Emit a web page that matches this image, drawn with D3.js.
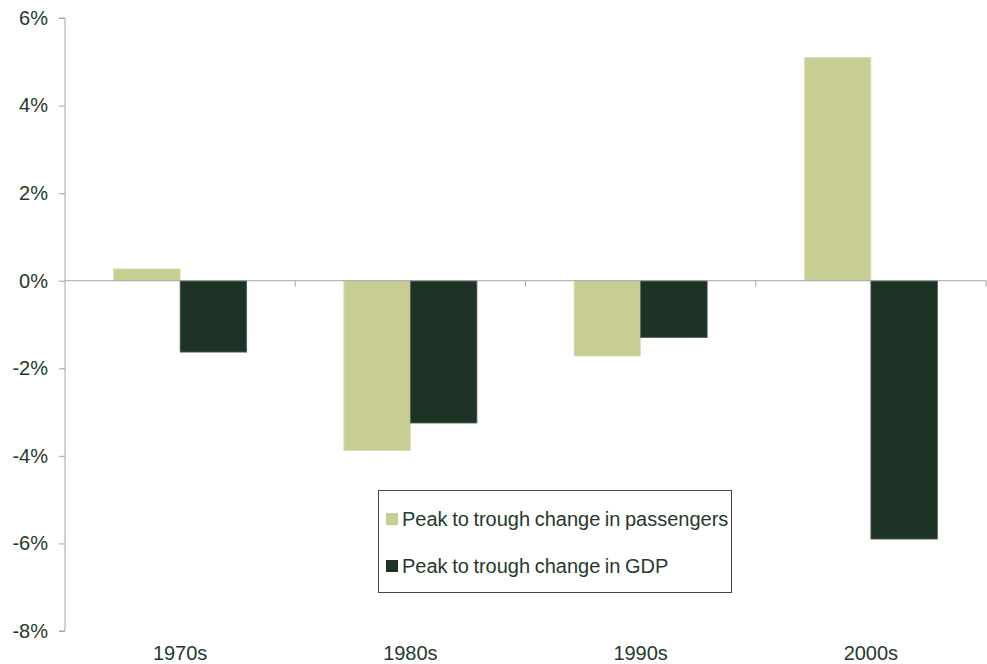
<!DOCTYPE html>
<html><head><meta charset="utf-8">
<script src="https://cdn.jsdelivr.net/npm/d3@7"></script>
<style>body{margin:0;background:#fff;} svg{display:block;}</style>
</head><body>
<svg id="chart" width="987" height="664"></svg>
<script>
const categories = ["1970s", "1980s", "1990s", "2000s"];
const seriesNames = ["Peak to trough change in passengers", "Peak to trough change in GDP"];
const passengers = [0.27, -3.88, -1.72, 5.1];
const gdp = [-1.63, -3.25, -1.30, -5.9];
const yTicks = [6, 4, 2, 0, -2, -4, -6, -8];
const colors = ["#C8CD94", "#1C3326"];
const textColor = "#1F3A2C";

const svg = d3.select("#chart");
const mLeft = 65, mRight = 986, mTop = 18, mBottom = 631;

const x = d3.scaleBand().domain(categories).range([mLeft, mRight]).paddingInner(0).paddingOuter(0);
const inner = d3.scaleBand().domain([0, 1]).range([0, x.bandwidth()]).paddingOuter(0.73).paddingInner(0);
const y = d3.scaleLinear().domain([-8, 6]).range([mBottom, mTop]);

const font = "'Liberation Sans', Arial, sans-serif";
const fs = "20px";

// bars
const series = [passengers, gdp];
series.forEach((vals, si) => {
  svg.append("g").selectAll("rect").data(vals).enter().append("rect")
    .attr("x", (d, i) => x(categories[i]) + inner(si))
    .attr("width", inner.bandwidth())
    .attr("y", d => y(Math.max(0, d)))
    .attr("height", d => Math.abs(y(d) - y(0)))
    .attr("fill", colors[si])
    .attr("stroke", si === 0 ? "#DCDFC0" : "#56655C")
    .attr("stroke-width", 0.8);
});

// y axis
const yAxis = d3.axisLeft(y).tickValues(yTicks).tickFormat(d => d + "%").tickSize(6).tickPadding(11);
const gy = svg.append("g").attr("transform", `translate(${mLeft},0)`).call(yAxis);
gy.select(".domain").attr("stroke", "#A6A6A6").attr("d", `M-6,${y(6)}H0V${y(-8)}H-6`);
gy.selectAll(".tick line").attr("stroke", "#A6A6A6");
gy.selectAll(".tick text").attr("font-family", font).attr("font-size", fs).attr("fill", textColor);

// x axis at zero
const xAxis = d3.axisBottom(x).tickSize(0).tickFormat("");
const gx = svg.append("g").attr("transform", `translate(0,${y(0)})`).call(xAxis);
gx.select(".domain").attr("stroke", "#A6A6A6").attr("d", `M${mLeft},0H${mRight}`);
gx.selectAll(".tick").remove();
const bounds = categories.map(c => x(c) + x.bandwidth());
gx.selectAll("line.bt").data(bounds).enter().append("line")
  .attr("x1", d => d).attr("x2", d => d).attr("y1", 0).attr("y2", 6)
  .attr("stroke", "#A6A6A6");

// category labels
svg.append("g").selectAll("text").data(categories).enter().append("text")
  .attr("x", d => x(d) + x.bandwidth() / 2)
  .attr("y", 660)
  .attr("text-anchor", "middle")
  .attr("font-family", font).attr("font-size", fs).attr("fill", textColor)
  .text(d => d);

// legend
const lg = svg.append("g");
lg.append("rect").attr("x", 378.5).attr("y", 490.5).attr("width", 353).attr("height", 102)
  .attr("fill", "#fff").attr("stroke", "#3A4A40").attr("stroke-width", 1);
seriesNames.forEach((name, i) => {
  const cy = 519 + i * 47;
  lg.append("rect").attr("x", 386).attr("y", cy - 6).attr("width", 12).attr("height", 12).attr("fill", colors[i]);
  lg.append("text").attr("x", 402).attr("y", cy + 7)
    .attr("font-family", font).attr("font-size", fs).attr("fill", textColor)
    .attr("word-spacing", "-1px")
    .text(name);
});
</script>
</body></html>
